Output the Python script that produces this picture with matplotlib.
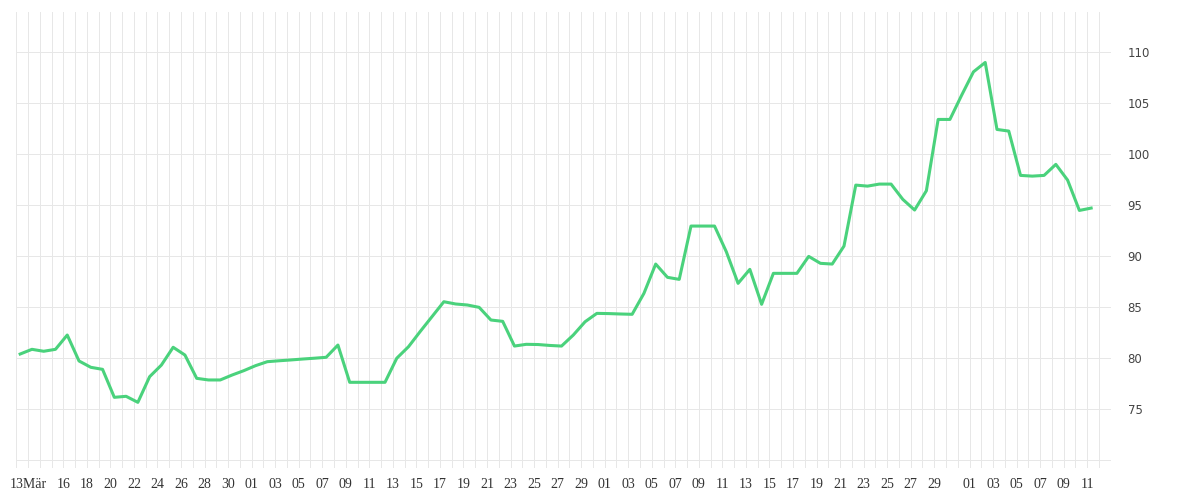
import datetime as dt
import matplotlib
matplotlib.use("Agg")
import matplotlib.pyplot as plt
import matplotlib.dates as mdates

# daily values, 12 Mar - 11 Jun
start = dt.datetime(2020, 3, 12, 8)
values = [80.41, 80.87, 80.68, 80.87, 82.27, 79.73, 79.11, 78.91, 76.17, 76.27,
          75.68, 78.19, 79.33, 81.07, 80.31, 78.03, 77.87, 77.87, 78.35, 78.78,
          79.27, 79.66, 79.75, 79.83, 79.92, 80.00, 80.09, 81.29, 77.64, 77.64,
          77.64, 77.64, 80.00, 81.13, 82.63, 84.08, 85.53, 85.31, 85.21, 84.98,
          83.74, 83.61, 81.19, 81.36, 81.34, 81.25, 81.19, 82.27, 83.57, 84.39,
          84.37, 84.33, 84.30, 86.35, 89.22, 87.92, 87.72, 92.94, 92.94, 92.94,
          90.43, 87.33, 88.70, 85.28, 88.31, 88.31, 88.31, 89.97, 89.29, 89.22,
          90.98, 96.95, 96.85, 97.05, 97.05, 95.55, 94.51, 96.40, 103.38, 103.38,
          105.76, 108.04, 108.96, 102.40, 102.24, 97.90, 97.83, 97.90, 98.98, 97.44,
          94.47, 94.70]
dates = [start + dt.timedelta(days=i) for i in range(len(values))]

# x tick labels (month, day, text)
tick_days = [(3, 13, "13Mär")] + [(3, d, "%02d" % d) for d in range(16, 31, 2)] \
    + [(4, d, "%02d" % d) for d in range(1, 30, 2)] \
    + [(5, d, "%02d" % d) for d in range(1, 30, 2)] \
    + [(6, d, "%02d" % d) for d in range(1, 12, 2)]
y_ticks = [75, 80, 85, 90, 95, 100, 105, 110]

fig = plt.figure(figsize=(12, 5), dpi=100)
ax = fig.add_axes([16 / 1200, 1 - 468 / 500, 1095 / 1200, 456 / 500])

ax.plot(dates, values, color="#4ad27c", linewidth=2.2, zorder=3)

# small margin so the last day grid line is not clipped
ax.set_xlim(dt.datetime(2020, 3, 11, 23, 30), dt.datetime(2020, 6, 13, 0, 30))
ax.set_ylim(69.25, 113.9)

ax.xaxis.set_minor_locator(mdates.DayLocator())
ax.set_xticks([dt.datetime(2020, m, d) for m, d, _ in tick_days])
ax.set_xticklabels([t for _, _, t in tick_days], family="Liberation Serif",
                   fontsize=10, color="#333333")

ax.yaxis.tick_right()
ax.set_yticks(y_ticks)
ax.set_yticks([70], minor=True)
ax.set_yticklabels([str(v) for v in y_ticks], family="DejaVu Sans",
                   fontsize=8.5, color="#444444")

ax.grid(True, which="both", color="#e7e7e7", linewidth=0.72, antialiased=False, zorder=0)
ax.set_axisbelow(True)
ax.tick_params(axis="both", which="both", length=0)
ax.tick_params(axis="x", pad=7)
ax.tick_params(axis="y", pad=12)
for s in ax.spines.values():
    s.set_visible(False)

plt.savefig("out.png", dpi=100)
